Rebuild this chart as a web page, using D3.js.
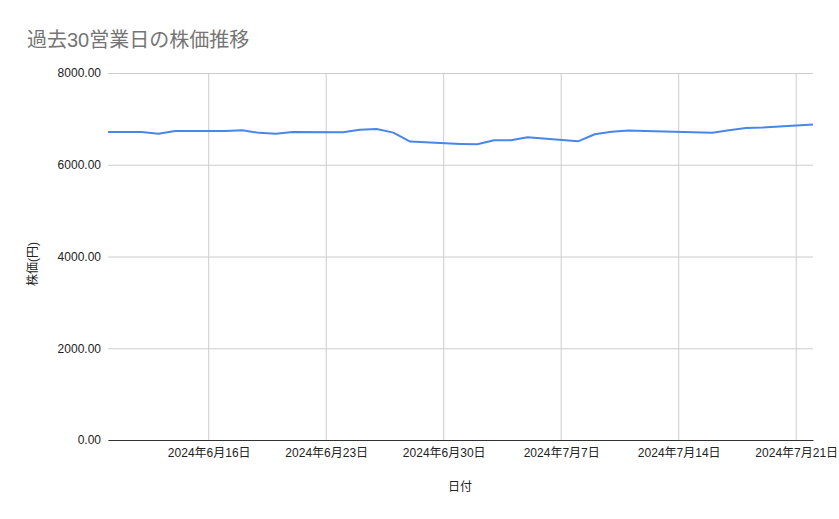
<!DOCTYPE html>
<html>
<head>
<meta charset="utf-8">
<script src="https://cdn.jsdelivr.net/npm/d3@7"></script>
<style>
  body { margin: 0; background: #fff; }
  text { font-family: "Liberation Sans", Arial, "Noto Sans CJK JP", sans-serif; }
</style>
</head>
<body>
<div id="chart-area"></div>
<script>
// DATA (30 business days, 7/15 is a holiday)
var dates = [
  "2024-06-10", "2024-06-11", "2024-06-12", "2024-06-13", "2024-06-14",
  "2024-06-17", "2024-06-18", "2024-06-19", "2024-06-20", "2024-06-21",
  "2024-06-24", "2024-06-25", "2024-06-26", "2024-06-27", "2024-06-28",
  "2024-07-01", "2024-07-02", "2024-07-03", "2024-07-04", "2024-07-05",
  "2024-07-08", "2024-07-09", "2024-07-10", "2024-07-11", "2024-07-12",
  "2024-07-16", "2024-07-17", "2024-07-18", "2024-07-19", "2024-07-22"
];
var prices = [
  6715, 6715, 6715, 6675, 6735,
  6735, 6750, 6695, 6675, 6715,
  6710, 6765, 6780, 6700, 6505,
  6455, 6445, 6535, 6535, 6600,
  6510, 6665, 6720, 6745, 6735,
  6700, 6750, 6800, 6810, 6875
];
var yTicks = [0, 2000, 4000, 6000, 8000];

var title = "過去30営業日の株価推移";
var xTitle = "日付";
var yTitle = "株価(円)";

var width = 839, height = 519;
var margin = { left: 108, right: 26, top: 73, bottom: 79 };

var parse = d3.timeParse("%Y-%m-%d");
var data = dates.map(function (d, i) { return { date: parse(d), price: prices[i] }; });

var svg = d3.select("#chart-area")
    .append("svg")
    .attr("width", width)
    .attr("height", height);

// SCALES
var x = d3.scaleTime()
    .domain([data[0].date, data[data.length - 1].date])
    .range([margin.left, width - margin.right]);

var y = d3.scaleLinear()
    .domain([0, 8000])
    .range([height - margin.bottom, margin.top]);

var xTickDates = d3.timeWeek.range(d3.timeDay.offset(data[0].date, 1), d3.timeDay.offset(data[data.length - 1].date, 1));
var fmtDate = d3.timeFormat("%Y年%-m月%-d日");

// GRIDLINES
svg.append("g")
    .selectAll("line.vgrid")
    .data(xTickDates)
    .enter().append("line")
    .attr("x1", function (d) { return x(d); })
    .attr("x2", function (d) { return x(d); })
    .attr("y1", margin.top)
    .attr("y2", height - margin.bottom)
    .attr("stroke", "#cccccc")
    .attr("stroke-width", 1);

// Y AXIS
var yAxisCall = d3.axisLeft(y)
    .tickValues(yTicks)
    .tickSize(-(width - margin.left - margin.right))
    .tickPadding(7)
    .tickFormat(d3.format(".2f"));

var yAxisGroup = svg.append("g")
    .attr("transform", "translate(" + margin.left + ",0)")
    .call(yAxisCall);
yAxisGroup.select(".domain").remove();
yAxisGroup.selectAll(".tick line").attr("stroke", "#cccccc");
yAxisGroup.selectAll(".tick text")
    .attr("font-size", "12px")
    .attr("fill", "#222")
    .style("font-family", "\"Liberation Sans\", Arial, \"Noto Sans CJK JP\", sans-serif");

// X AXIS
var xAxisCall = d3.axisBottom(x)
    .tickValues(xTickDates)
    .tickSize(0)
    .tickPadding(8)
    .tickFormat(fmtDate);

var xAxisGroup = svg.append("g")
    .attr("transform", "translate(0," + (height - margin.bottom) + ")")
    .call(xAxisCall);
xAxisGroup.select(".domain").attr("stroke", "#333").attr("stroke-width", 1);
xAxisGroup.selectAll(".tick text")
    .attr("font-size", "12px")
    .attr("fill", "#222")
    .style("font-family", "\"Liberation Sans\", Arial, \"Noto Sans CJK JP\", sans-serif");

// LINE
var line = d3.line()
    .x(function (d) { return x(d.date); })
    .y(function (d) { return y(d.price); });

svg.append("path")
    .datum(data)
    .attr("fill", "none")
    .attr("stroke", "#4a86e8")
    .attr("stroke-width", 2)
    .attr("stroke-linejoin", "round")
    .attr("d", line);

// TITLE
svg.append("text")
    .attr("x", 27)
    .attr("y", 47)
    .attr("font-size", "20px")
    .attr("fill", "#757575")
    .text(title);

// X LABEL
svg.append("text")
    .attr("x", 460)
    .attr("y", 491)
    .attr("font-size", "12px")
    .attr("fill", "#222")
    .attr("text-anchor", "middle")
    .text(xTitle);

// Y LABEL
svg.append("text")
    .attr("transform", "translate(37,264) rotate(-90)")
    .attr("font-size", "12px")
    .attr("fill", "#222")
    .attr("text-anchor", "middle")
    .text(yTitle);
</script>
</body>
</html>
